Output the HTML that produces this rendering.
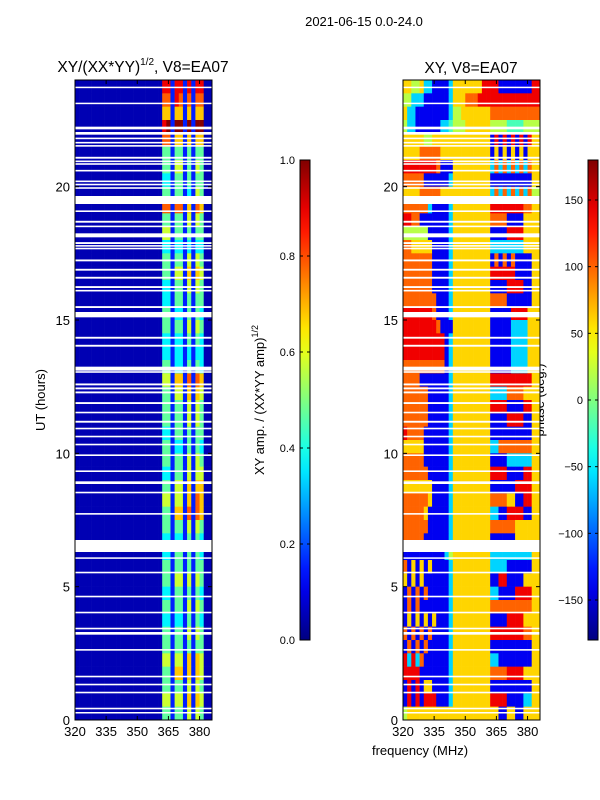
<!DOCTYPE html>
<html><head><meta charset="utf-8"><style>
html,body{margin:0;padding:0;background:#fff;}
svg{display:block;font-family:"Liberation Sans",sans-serif;}
</style></head><body>
<svg id="fig" width="600" height="800" viewBox="0 0 600 800">
<defs>
<linearGradient id="jet" x1="0" y1="1" x2="0" y2="0"></linearGradient>
</defs>
<text x="364" y="26" font-size="13" text-anchor="middle">2021-06-15 0.0-24.0</text>
<text x="143" y="72" font-size="15.5" text-anchor="middle">XY/(XX*YY)<tspan font-size="10" dy="-7">1/2</tspan><tspan dy="7">, V8=EA07</tspan></text>
<text x="471" y="73" font-size="15.5" text-anchor="middle">XY, V8=EA07</text>
<text x="45" y="400" font-size="13" text-anchor="middle" transform="rotate(-90 45 400)">UT (hours)</text>
<text x="420" y="755" font-size="13" text-anchor="middle">frequency (MHz)</text>
<text x="264" y="400" font-size="13" text-anchor="middle" transform="rotate(-90 264 400)">XY amp. / (XX*YY amp)<tspan font-size="9" dy="-6">1/2</tspan></text>
<text x="544" y="400" font-size="13" text-anchor="middle" transform="rotate(-90 544 400)">phase (deg.)</text>
<g id="layer"></g>
</svg>
<script>
const freqStart = 320, freqStep = 2, nChan = 33;
const rowHours = 0.5;
const xTicks = [320, 335, 350, 365, 380];
const yTicks = [0, 5, 10, 15, 20];
const ampTicks = [0.0, 0.2, 0.4, 0.6, 0.8, 1.0];
const ampTickLabels = ["0.0", "0.2", "0.4", "0.6", "0.8", "1.0"];
const phaseTicks = [-150, -100, -50, 0, 50, 100, 150];
const phaseTickLabels = ["\u2212150", "\u2212100", "\u221250", "0", "50", "100", "150"];
const Z = "000000000000000000000";
const ampRows = [
Z+"881881818800", Z+"771871717700", Z+"661661616600", Z+"891991919900",
Z+"771661616600", Z+"441441414400", Z+"441551415400", Z+"331441414400",
Z+"441441315400", Z+"771771617600", Z+"441441515400", Z+"551441414400",
Z+"331331313300", Z+"441441515400", Z+"441551616500", Z+"331441515400",
Z+"331441414400", Z+"441331414300", Z+"441441515400", Z+"331331414300",
Z+"331331313300", Z+"441331414300", Z+"551661717600", Z+"441551616500",
Z+"441441515400", Z+"441441515400", Z+"331441414400", Z+"441331414300",
Z+"441441515400", Z+"331441515500", Z+"441551616600", Z+"551551617600",
Z+"441661717600", Z+"441441515400", Z+"331331414300", Z+"331441414300",
Z+"441441414400", Z+"441551515400", Z+"331441414300", Z+"441441515400",
Z+"331331414300", Z+"441441515400", Z+"441441414400", Z+"551551616500",
Z+"441661616500", Z+"441441515400", Z+"551551616500", Z+"441441515400"
];
const phaseRows = [
"665563311"+"11366"+"6666688"+"881111111188",
"553331111"+"11366"+"6777888"+"888888888888",
"633111111"+"11355"+"6666666"+"777777777777",
"533111111"+"33455"+"5666666"+"555544445555",
"666665566"+"66666"+"6666666"+"181818181866",
"666677777"+"66666"+"6666666"+"161616161666",
"888888887"+"11166"+"6666666"+"373737373766",
"777771111"+"11366"+"6666666"+"111111111166",
"666677777"+"66666"+"6666666"+"373737373755",
"777777311"+"11366"+"6666666"+"888888887766",
"887711111"+"11366"+"6666666"+"777711116666",
"555555111"+"11366"+"6666666"+"111188886666",
"776666611"+"11366"+"6666666"+"333333336666",
"777777711"+"11366"+"6666666"+"171717111166",
"777777711"+"11366"+"6666666"+"888888111166",
"777777711"+"11366"+"6666666"+"111188881166",
"777777771"+"11366"+"6666666"+"777711111166",
"888888871"+"11366"+"6666666"+"111118888666",
"888888887"+"11166"+"6666666"+"111113333666",
"888888888"+"81366"+"6666666"+"111113333666",
"888888888"+"81366"+"6666666"+"111113333666",
"777777777"+"71366"+"6666666"+"111113333666",
"777711111"+"11366"+"6666666"+"888888888866",
"777777111"+"11366"+"6666666"+"333377776666",
"777777111"+"11366"+"6666666"+"888811118866",
"777777111"+"11366"+"6666666"+"111188881166",
"877771111"+"11366"+"6666666"+"111111111166",
"666661111"+"11366"+"6666666"+"337777777766",
"777771111"+"11366"+"6666666"+"111133333366",
"777777111"+"11366"+"6666666"+"888811118866",
"666666611"+"11366"+"6666666"+"111111888866",
"777777611"+"11366"+"6666666"+"777766118866",
"777776111"+"11366"+"6666666"+"331188881166",
"777777111"+"11366"+"6666666"+"777777666666",
"777771111"+"11366"+"6666666"+"111111666666",
"111111111"+"13566"+"6666666"+"333333333366",
"716161611"+"11366"+"6666666"+"333311111166",
"616161111"+"11366"+"6666666"+"118811116666",
"171717111"+"11366"+"6666666"+"331111888866",
"171711111"+"11366"+"6666666"+"777777777766",
"161616161"+"11366"+"6666666"+"111188886666",
"717171711"+"11366"+"6666666"+"888888887766",
"171717111"+"11366"+"6666666"+"111111111166",
"838371111"+"11366"+"6666666"+"331111111166",
"888811111"+"11366"+"6666666"+"777788886666",
"181816611"+"11366"+"6666666"+"111111111166",
"181818881"+"11366"+"6666666"+"888811113366",
"566666666"+"66666"+"6666666"+"661166116666"
];
const gapHours = [
[23.7,23.75],[23.1,23.15],[22.15,22.25],[21.95,22.05],[21.78,21.84],[21.62,21.68],[21.5,21.56],
[21.05,21.12],[20.92,20.98],[20.82,20.88],[20.57,20.63],[20.17,20.23],[20.05,20.11],[19.92,19.98],
[19.35,19.65],[19.05,19.11],[18.65,18.72],[18.48,18.54],[18.1,18.25],[17.85,17.92],[17.75,17.81],
[17.65,17.71],[17.2,17.27],[16.85,16.92],[16.55,16.62],[16.2,16.27],[16.07,16.13],[15.45,15.52],
[15.1,15.3],[14.3,14.37],[14.0,14.07],[13.1,13.25],[13.02,13.08],[12.55,12.62],[12.4,12.47],
[12.25,12.32],[11.85,11.92],[11.5,11.56],[11.15,11.22],[10.9,10.96],[10.6,10.66],[10.3,10.36],
[9.9,9.96],[9.3,9.36],[8.85,8.95],[8.5,8.56],[7.7,7.76],[6.3,6.75],[6.05,6.1],[5.5,5.56],
[4.6,4.66],[4.0,4.06],[3.4,3.46],[3.2,3.3],[2.6,2.66],[1.6,1.66],[1.3,1.36],[1.0,1.06],
[0.4,0.46],[0.25,0.3]
];

const NS = "http://www.w3.org/2000/svg";
const layer = document.getElementById("layer");
function el(tag, attrs, parent) {
  const e = document.createElementNS(NS, tag);
  for (const k in attrs) e.setAttribute(k, attrs[k]);
  (parent || layer).appendChild(e);
  return e;
}
function clamp(v) { return Math.max(0, Math.min(1, v)); }
function jet(v) {
  const r = clamp(1.5 - Math.abs(4 * v - 3)), g = clamp(1.5 - Math.abs(4 * v - 2)), b = clamp(1.5 - Math.abs(4 * v - 1));
  return "rgb(" + Math.round(r * 255) + "," + Math.round(g * 255) + "," + Math.round(b * 255) + ")";
}
const panels = [
  { x0: 75, x1: 212, name: "amp" },
  { x0: 403, x1: 540, name: "phase" }
];
const yTop = 80, yBot = 720, fMin = 320, fMax = 386, hMax = 24;
function xScale(p, f) { return p.x0 + (f - fMin) * (p.x1 - p.x0) / (fMax - fMin); }
function yScale(h) { return yBot - h * (yBot - yTop) / hMax; }

const grad = document.getElementById("jet");
for (let i = 0; i <= 20; i++) {
  const s = document.createElementNS(NS, "stop");
  s.setAttribute("offset", (i / 20));
  s.setAttribute("stop-color", jet(i / 20));
  grad.appendChild(s);
}

panels.forEach((p, pi) => {
  const rows = pi === 0 ? ampRows : phaseRows;
  const g = el("g", {});
  
  
  rows.forEach((row, i) => {
    const hHi = hMax - i * rowHours, hLo = hHi - rowHours;
    for (let c = 0; c < nChan; c++) {
      const d = parseInt(row[c] || "0", 10);
      let v;
      if (pi === 0) v = 0.05 + 0.105 * d;
      else { const ph = -180 + 40 * d; v = (ph + 180) / 360; }
      const xa = xScale(p, freqStart + c * freqStep), xb = xScale(p, freqStart + (c + 1) * freqStep);
      const r = el("rect", { x: xa.toFixed(2), y: yScale(hHi).toFixed(2), width: (Math.min(xb, p.x1) - xa + 0.3).toFixed(2), height: (yScale(hLo) - yScale(hHi) + 0.3).toFixed(2), fill: jet(clamp(v)) }, g);
      
      
    }
  });
  gapHours.forEach(gh => {
    const r = el("rect", { x: p.x0, y: yScale(gh[1]).toFixed(2), width: p.x1 - p.x0, height: Math.max(1.5, yScale(gh[0]) - yScale(gh[1])).toFixed(2), fill: "#fff" }, g);
    
    
  });
  const fr = el("rect", { x: p.x0, y: yTop, width: p.x1 - p.x0, height: yBot - yTop, fill: "none", stroke: "#000", "stroke-width": 1 });
  
  
  xTicks.forEach(t => {
    const x = xScale(p, t);
    el("line", { x1: x, y1: yBot, x2: x, y2: yBot - 4, stroke: "#000" });
    el("line", { x1: x, y1: yTop, x2: x, y2: yTop + 4, stroke: "#000" });
    const tx = el("text", { x: x, y: yBot + 16, "font-size": 13, "text-anchor": "middle" });
    tx.textContent = String(t);
    
    
  });
  yTicks.forEach(t => {
    const y = yScale(t);
    el("line", { x1: p.x0, y1: y, x2: p.x0 + 4, y2: y, stroke: "#000" });
    el("line", { x1: p.x1, y1: y, x2: p.x1 - 4, y2: y, stroke: "#000" });
    const tx = el("text", { x: p.x0 - 5, y: y + 5, "font-size": 13, "text-anchor": "end" });
    tx.textContent = String(t);
    
    
  });
});

const cbTop = 160, cbBot = 640;
[{ x: 300, name: "amp", ticks: ampTicks, labels: ampTickLabels, min: 0, max: 1 },
 { x: 588, name: "phase", ticks: phaseTicks, labels: phaseTickLabels, min: -180, max: 180 }].forEach(cb => {
  const r = el("rect", { x: cb.x, y: cbTop, width: 10, height: cbBot - cbTop, fill: "url(#jet)", stroke: "#000", "stroke-width": 1 });
  
  
  cb.ticks.forEach((t, i) => {
    const y = cbBot - (t - cb.min) / (cb.max - cb.min) * (cbBot - cbTop);
    el("line", { x1: cb.x, y1: y, x2: cb.x + 3, y2: y, stroke: "#000" });
    el("line", { x1: cb.x + 10, y1: y, x2: cb.x + 7, y2: y, stroke: "#000" });
    const tx = el("text", { x: cb.x - 5, y: y + 4, "font-size": 11, "text-anchor": "end" });
    tx.textContent = cb.labels[i];
    
    
  });
});
</script>
</body></html>
